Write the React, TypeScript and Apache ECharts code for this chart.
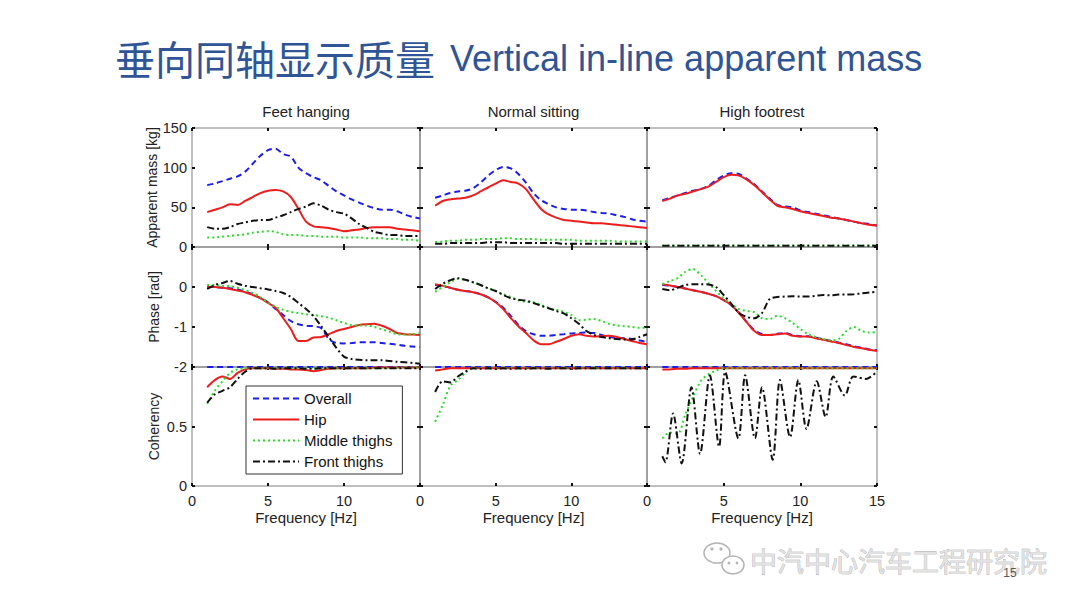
import React, { useEffect, useRef } from 'react';
import * as echarts from 'echarts';

// frequency grid shared by most curves [Hz]
const FREQ = [1, 1.5, 2, 2.5, 3, 3.5, 4, 4.5, 5, 5.5, 6, 6.5, 7, 7.5, 8, 8.5, 9, 9.5, 10, 10.5, 11, 11.5, 12, 12.5, 13, 13.5, 14, 14.5, 15];

const COLUMN_TITLES = ['Feet hanging', 'Normal sitting', 'High footrest'];
const SERIES_NAMES = ['Overall', 'Hip', 'Middle thighs', 'Front thighs'];
const ROW_NAMES = ['Apparent mass [kg]', 'Phase [rad]', 'Coherency'];
const X_TICKS = [0, 5, 10, 15];
const MASS_TICKS = [0, 50, 100, 150];
const PHASE_TICKS = [-2, -1, 0, 1];
const COH_TICKS = [0, 0.5, 1];

// Apparent mass [kg]
const massFeetOverall = [78, 80, 83, 86, 89, 95, 105, 115, 122, 124, 117, 114, 100, 93, 88, 84, 77, 70, 65, 60, 56, 52, 49, 47, 47, 45, 41, 38, 36];
const massFeetHip = [44, 47, 50, 54, 53, 58, 63, 68, 71, 72, 70, 63, 48, 32, 26, 25, 24, 22, 20, 21, 22, 24, 25, 25, 25, 23, 22, 21, 20];
const massFeetMiddle = [12, 12, 13, 14, 15, 16, 18, 19, 20, 19, 16, 15, 15, 14, 14, 13, 13, 13, 12, 12, 12, 11, 11, 11, 10, 10, 9, 9, 8];
const massFeetFront = [25, 23, 23, 25, 29, 31, 33, 34, 34, 37, 40, 44, 48, 51, 55, 52, 47, 44, 42, 36, 29, 24, 19, 17, 15, 15, 14, 14, 14];

const massNormalOverall = [62, 65, 68, 70, 71, 74, 81, 90, 97, 101, 99, 92, 81, 68, 59, 54, 50, 48, 47, 47, 46, 44, 43, 42, 40, 38, 35, 33, 32];
const massNormalHip = [52, 58, 60, 61, 62, 65, 70, 75, 80, 84, 82, 80, 73, 60, 48, 41, 37, 34, 33, 32, 31, 30, 30, 29, 28, 27, 26, 25, 24];
const massNormalMiddle = [6, 7, 8, 8, 9, 9, 10, 10, 10, 11, 11, 10, 10, 10, 9, 9, 9, 9, 9, 8, 8, 8, 8, 8, 7, 7, 7, 7, 7];
const massNormalFront = [4, 4, 5, 5, 5, 5, 5, 6, 6, 6, 5, 5, 5, 5, 5, 5, 5, 4, 4, 4, 4, 4, 4, 4, 4, 4, 4, 4, 4];

const massHighOverall = [59, 62, 65, 68, 71, 73, 77, 84, 90, 93, 92, 86, 79, 70, 61, 53, 51, 50, 46, 44, 42, 40, 38, 36, 34, 32, 30, 29, 27];
const massHighHip = [58, 61, 65, 67, 70, 73, 76, 82, 88, 91, 90, 85, 78, 69, 60, 52, 50, 48, 45, 43, 41, 39, 37, 36, 34, 32, 30, 28, 27];
const massHighMiddle = [2, 2, 2, 2, 2, 2, 2, 2, 2, 2, 2, 2, 2, 2, 2, 2, 2, 2, 2, 2, 2, 2, 2, 2, 2, 2, 2, 2, 2];
const massHighFront = [1.5, 1.5, 1.5, 1.5, 1.5, 1.5, 1.5, 1.5, 1.5, 1.5, 1.5, 1.5, 1.5, 1.5, 1.5, 1.5, 1.5, 1.5, 1.5, 1.5, 1.5, 1.5, 1.5, 1.5, 1.5, 1.5, 1.5, 1.5, 1.5];

// Phase [rad]
const phaseFeetOverall = [0, 0, -0.02, -0.03, -0.06, -0.12, -0.18, -0.28, -0.38, -0.55, -0.7, -0.85, -0.93, -0.97, -0.98, -1.03, -1.3, -1.4, -1.41, -1.4, -1.38, -1.38, -1.38, -1.4, -1.42, -1.44, -1.47, -1.49, -1.5];
const phaseFeetHip = [0, 0, -0.02, -0.05, -0.09, -0.13, -0.2, -0.28, -0.4, -0.52, -0.78, -1.05, -1.35, -1.35, -1.26, -1.25, -1.18, -1.1, -1.05, -1.0, -0.95, -0.93, -0.92, -0.97, -1.05, -1.15, -1.18, -1.19, -1.2];
const phaseFeetMiddle = [0.05, 0.05, 0.03, 0.02, -0.02, -0.08, -0.15, -0.25, -0.38, -0.5, -0.57, -0.62, -0.65, -0.68, -0.7, -0.73, -0.77, -0.83, -0.9, -0.95, -0.96, -0.96, -1.0, -1.06, -1.12, -1.18, -1.19, -1.18, -1.15];
const phaseFeetFront = [-0.05, 0.05, 0.1, 0.15, 0.08, 0.03, 0, -0.03, -0.06, -0.1, -0.15, -0.25, -0.4, -0.55, -0.73, -0.98, -1.25, -1.52, -1.74, -1.8, -1.82, -1.83, -1.83, -1.83, -1.85, -1.87, -1.88, -1.9, -1.92];

const phaseNormalOverall = [0.05, 0.02, -0.02, -0.07, -0.1, -0.13, -0.18, -0.26, -0.37, -0.52, -0.72, -0.95, -1.1, -1.18, -1.22, -1.22, -1.2, -1.18, -1.16, -1.15, -1.14, -1.15, -1.2, -1.25, -1.27, -1.28, -1.3, -1.34, -1.37];
const phaseNormalHip = [0.07, 0.03, -0.02, -0.07, -0.1, -0.13, -0.18, -0.26, -0.38, -0.55, -0.78, -0.98, -1.15, -1.33, -1.43, -1.43, -1.37, -1.3, -1.22, -1.18, -1.22, -1.24, -1.23, -1.22, -1.25, -1.3, -1.35, -1.4, -1.43];
const phaseNormalMiddle = [-0.12, 0, 0.12, 0.2, 0.18, 0.12, 0.05, -0.03, -0.1, -0.18, -0.25, -0.33, -0.37, -0.38, -0.45, -0.52, -0.57, -0.62, -0.7, -0.83, -0.82, -0.8, -0.85, -0.92, -0.96, -0.98, -1.0, -1.02, -1.02];
const phaseNormalFront = [-0.05, 0.08, 0.17, 0.22, 0.18, 0.12, 0.05, -0.03, -0.1, -0.2, -0.28, -0.32, -0.34, -0.4, -0.47, -0.53, -0.6, -0.66, -0.78, -0.92, -1.1, -1.2, -1.25, -1.28, -1.3, -1.31, -1.31, -1.25, -1.18];

const phaseHighOverall = [0.05, 0.03, 0, -0.04, -0.08, -0.12, -0.17, -0.23, -0.33, -0.46, -0.65, -0.88, -1.08, -1.18, -1.2, -1.17, -1.15, -1.2, -1.23, -1.23, -1.27, -1.31, -1.35, -1.39, -1.43, -1.48, -1.52, -1.56, -1.58];
const phaseHighHip = [0.07, 0.04, 0, -0.04, -0.08, -0.12, -0.17, -0.23, -0.33, -0.45, -0.65, -0.88, -1.1, -1.2, -1.2, -1.18, -1.16, -1.22, -1.24, -1.24, -1.28, -1.32, -1.36, -1.4, -1.45, -1.5, -1.53, -1.57, -1.6];
const phaseHighMiddle = [0.07, 0.15, 0.22, 0.38, 0.45, 0.3, 0.1, -0.1, -0.28, -0.42, -0.55, -0.6, -0.63, -0.78, -0.8, -0.72, -0.78, -0.9, -1.05, -1.18, -1.25, -1.3, -1.33, -1.3, -1.1, -1.0, -1.1, -1.14, -1.13];
const phaseHighFront = [-0.05, -0.08, -0.02, 0.05, 0.07, 0.07, 0.06, 0, -0.2, -0.42, -0.65, -0.75, -0.78, -0.65, -0.3, -0.25, -0.24, -0.23, -0.24, -0.24, -0.22, -0.2, -0.21, -0.19, -0.19, -0.18, -0.16, -0.14, -0.12];

// Coherency
const cohFeetOverall = [1, 1, 1, 1, 1, 1, 1, 1, 1, 1, 1, 1, 1, 1, 1, 1, 1, 1, 1, 1, 1, 1, 1, 1, 1, 1, 1, 1, 1];
const cohFeetHip = [0.83, 0.89, 0.92, 0.9, 0.95, 0.98, 0.99, 0.99, 0.99, 0.985, 0.985, 0.98, 0.98, 0.975, 0.965, 0.975, 0.985, 0.99, 0.99, 0.99, 0.99, 0.99, 0.995, 0.995, 0.995, 0.995, 0.995, 0.995, 0.995];
const cohFeetMiddle = [0.69, 0.8, 0.88, 0.95, 0.98, 0.99, 0.99, 0.99, 0.99, 0.99, 0.99, 0.99, 0.99, 0.99, 0.99, 0.99, 0.99, 0.99, 0.99, 0.99, 0.99, 0.99, 0.99, 0.99, 0.99, 0.995, 0.995, 0.995, 0.995];
const cohFeetFront = [0.7, 0.77, 0.8, 0.83, 0.9, 0.96, 0.99, 0.99, 0.99, 0.985, 0.99, 0.99, 0.99, 0.985, 0.985, 0.99, 0.99, 0.99, 0.99, 0.99, 0.99, 0.99, 0.99, 0.99, 0.99, 0.99, 0.99, 0.99, 0.99];

const cohNormalOverall = [1, 1, 1, 1, 1, 1, 1, 1, 1, 1, 1, 1, 1, 1, 1, 1, 1, 1, 1, 1, 1, 1, 1, 1, 1, 1, 1, 1, 1];
const cohNormalHip = [0.97, 0.98, 0.99, 0.99, 0.99, 0.99, 0.99, 0.99, 0.99, 0.99, 0.99, 0.99, 0.99, 0.99, 0.99, 0.99, 0.99, 0.99, 0.99, 0.99, 0.99, 0.99, 0.99, 0.99, 0.99, 0.99, 0.99, 0.99, 0.99];
const cohNormalMiddle = [0.54, 0.68, 0.84, 0.89, 0.95, 0.99, 0.99, 0.99, 0.99, 0.99, 0.99, 0.99, 0.99, 0.99, 0.99, 0.99, 0.99, 0.99, 0.99, 0.99, 0.99, 0.99, 0.99, 0.99, 0.99, 0.99, 0.99, 0.99, 0.99];
const cohNormalFront = [0.79, 0.88, 0.87, 0.92, 0.96, 0.99, 0.985, 0.99, 0.985, 0.99, 0.985, 0.99, 0.985, 0.99, 0.99, 0.985, 0.99, 0.99, 0.985, 0.99, 0.99, 0.99, 0.99, 0.99, 0.99, 0.99, 0.99, 0.99, 0.99];

const cohHighOverall = [1, 1, 1, 1, 1, 1, 1, 1, 1, 1, 1, 1, 1, 1, 1, 1, 1, 1, 1, 1, 1, 1, 1, 1, 1, 1, 1, 1, 1];
const cohHighHip = [0.98, 0.98, 0.985, 0.985, 0.99, 0.99, 0.99, 0.99, 0.99, 0.99, 0.99, 0.99, 0.99, 0.99, 0.99, 0.99, 0.99, 0.99, 0.99, 0.99, 0.99, 0.99, 0.99, 0.99, 0.99, 0.99, 0.99, 0.99, 0.99];
const cohHighMiddle = [0.4, 0.45, 0.44, 0.6, 0.75, 0.88, 0.94, 0.97, 0.99, 0.99, 0.99, 0.99, 0.99, 0.99, 0.99, 0.99, 0.99, 0.99, 0.99, 0.99, 0.99, 0.99, 0.99, 0.99, 0.99, 0.99, 0.99, 0.99, 0.99];
// front thighs, high footrest: oscillating curve with its own frequency points
const cohHighFrontFreq = [1.0, 1.2, 1.7, 2.26, 2.9, 3.46, 4.1, 4.7, 5.1, 5.96, 6.4, 7.04, 7.5, 8.2, 8.67, 9.33, 9.87, 10.4, 11.07, 11.65, 12.15, 12.9, 13.46, 14.3, 14.9];
const cohHighFront = [0.25, 0.2, 0.61, 0.19, 0.83, 0.27, 0.93, 0.33, 0.96, 0.4, 0.93, 0.4, 0.83, 0.22, 0.89, 0.41, 0.89, 0.48, 0.88, 0.58, 0.92, 0.76, 0.92, 0.9, 0.95];

const FONT = "'Liberation Sans', Arial, sans-serif";
const COLORS = ['#1c1ced', '#ee1d1d', '#28dc28', '#111111'];
const DASHES: any[] = [[6, 4], 'solid', [2, 3], [7, 3, 2, 3]];

const COL_LEFT = [192, 420, 647];
const COL_W = [228, 227, 230];
const ROW_TOP = [128, 247, 367];
const ROW_H = [119, 120, 119];

const pairs = (xs: number[], ys: number[]) => xs.map((x, i) => [x, ys[i]]);

const PANELS = [
  [
    [massFeetOverall, massFeetHip, massFeetMiddle, massFeetFront],
    [massNormalOverall, massNormalHip, massNormalMiddle, massNormalFront],
    [massHighOverall, massHighHip, massHighMiddle, massHighFront],
  ],
  [
    [phaseFeetOverall, phaseFeetHip, phaseFeetMiddle, phaseFeetFront],
    [phaseNormalOverall, phaseNormalHip, phaseNormalMiddle, phaseNormalFront],
    [phaseHighOverall, phaseHighHip, phaseHighMiddle, phaseHighFront],
  ],
  [
    [cohFeetOverall, cohFeetHip, cohFeetMiddle, cohFeetFront],
    [cohNormalOverall, cohNormalHip, cohNormalMiddle, cohNormalFront],
    [cohHighOverall, cohHighHip, cohHighMiddle, null],
  ],
];

const ROW_TICKS = [MASS_TICKS, PHASE_TICKS, COH_TICKS];

const App: React.FC = () => {
  const chartRef = useRef<HTMLDivElement>(null);

  useEffect(() => {
    if (!chartRef.current) return;
    const myChart = echarts.init(chartRef.current, undefined, { renderer: 'svg' });

    const grid: any[] = [];
    const xAxis: any[] = [];
    const yAxis: any[] = [];
    const series: any[] = [];
    const tick = { inside: true, length: 3, lineStyle: { color: '#111', width: 2 } };
    const noLine = { show: false, onZero: false };

    for (let r = 0; r < 3; r++) {
      const ticks = ROW_TICKS[r];
      const yMin = ticks[0];
      const yMax = ticks[ticks.length - 1];
      const yInt = ticks[1] - ticks[0];
      for (let c = 0; c < 3; c++) {
        const g = r * 3 + c;
        grid.push({
          left: COL_LEFT[c], top: ROW_TOP[r], width: COL_W[c], height: ROW_H[r],
          show: true, borderColor: '#808080', borderWidth: 1, backgroundColor: 'transparent',
        });
        const xBase = {
          gridIndex: g, type: 'value', min: X_TICKS[0], max: X_TICKS[X_TICKS.length - 1], interval: 5,
          axisLine: noLine, splitLine: { show: false }, axisTick: tick,
        };
        xAxis.push({
          ...xBase, position: 'bottom',
          axisLabel: {
            show: r === 2, fontSize: 14.5, color: '#222', fontFamily: FONT, margin: 7,
            formatter: (v: number) => (v === 15 && c < 2 ? '' : String(v)),
          },
          name: r === 2 ? 'Frequency [Hz]' : '', nameLocation: 'middle', nameGap: 24,
          nameTextStyle: { fontSize: 15, color: '#222', fontFamily: FONT },
        });
        xAxis.push({ ...xBase, position: 'top', axisLabel: { show: false } });
        const yBase = {
          gridIndex: g, type: 'value', min: yMin, max: yMax, interval: yInt,
          axisLine: noLine, splitLine: { show: false }, axisTick: tick,
        };
        yAxis.push({
          ...yBase, position: 'left',
          axisLabel: {
            show: c === 0, fontSize: 14.5, color: '#222', fontFamily: FONT, margin: 5,
            formatter: (v: number) => (r > 0 && v === yMax ? '' : String(v)),
          },
          name: c === 0 ? ROW_NAMES[r] : '', nameLocation: 'middle', nameGap: 31,
          nameTextStyle: { fontSize: 14, color: '#222', fontFamily: FONT },
        });
        yAxis.push({ ...yBase, position: 'right', axisLabel: { show: false } });

        PANELS[r][c].forEach((vals, k) => {
          const data = vals ? pairs(FREQ, vals) : pairs(cohHighFrontFreq, cohHighFront);
          series.push({
            name: SERIES_NAMES[k], type: 'line', xAxisIndex: 2 * g, yAxisIndex: 2 * g,
            data, symbol: 'none', smooth: 0.3, silent: true,
            lineStyle: { color: COLORS[k], type: DASHES[k], width: 2 },
            itemStyle: { color: COLORS[k] },
          });
        });
      }
    }

    const graphic: any[] = [
      { type: 'text', left: 115, top: 38, style: { text: '垂向同轴显示质量', font: "40px 'Noto Sans CJK SC'", fill: '#2f5597' } },
      { type: 'text', left: 450, top: 40, style: { text: 'Vertical in-line apparent mass', font: `36px ${FONT}`, fill: '#2f5597' } },
      ...COLUMN_TITLES.map((t, c) => ({
        type: 'text', x: COL_LEFT[c] + COL_W[c] / 2, y: 111,
        style: { text: t, font: `15px ${FONT}`, fill: '#222', align: 'center', verticalAlign: 'middle' },
      })),
      // watermark
      { type: 'ellipse', shape: { cx: 717, cy: 553, rx: 13, ry: 10 }, style: { fill: '#fff', stroke: '#b5b5b5', lineWidth: 1.5 } },
      { type: 'circle', shape: { cx: 712, cy: 549, r: 1.6 }, style: { fill: '#b5b5b5' } },
      { type: 'circle', shape: { cx: 721, cy: 549, r: 1.6 }, style: { fill: '#b5b5b5' } },
      { type: 'ellipse', shape: { cx: 733, cy: 565, rx: 11, ry: 9 }, style: { fill: '#fff', stroke: '#b5b5b5', lineWidth: 1.5 } },
      { type: 'circle', shape: { cx: 729, cy: 563, r: 1.4 }, style: { fill: '#b5b5b5' } },
      { type: 'circle', shape: { cx: 737, cy: 563, r: 1.4 }, style: { fill: '#b5b5b5' } },
      {
        type: 'text', x: 750, y: 560,
        style: {
          text: '中汽中心汽车工程研究院', font: "27px 'Noto Sans CJK SC'", fill: '#e2e2e2',
          verticalAlign: 'middle', stroke: '#a0a0a0', lineWidth: 0.6,
        },
      },
      { type: 'text', x: 1010, y: 573, style: { text: '15', font: `12px ${FONT}`, fill: '#555', align: 'center', verticalAlign: 'middle' } },
    ];

    const option: any = {
      animation: false,
      backgroundColor: '#fff',
      grid, xAxis, yAxis, series, graphic,
      legend: {
        data: SERIES_NAMES, orient: 'vertical', left: 246, top: 386, selectedMode: false,
        itemWidth: 46, itemHeight: 13, itemGap: 6, padding: [5, 10, 5, 6],
        borderColor: '#333', borderWidth: 1, backgroundColor: '#fff',
        itemStyle: { opacity: 0 },
        textStyle: { fontSize: 15, color: '#111', fontFamily: FONT },
      },
    };

    myChart.setOption(option);

    return () => {
      myChart.dispose();
    };
  }, []);

  return (
    <div
      ref={chartRef}
      style={{ position: 'fixed', left: 0, top: 0, width: '1080px', height: '608px', background: '#fff' }}
    />
  );
};

export default App;
